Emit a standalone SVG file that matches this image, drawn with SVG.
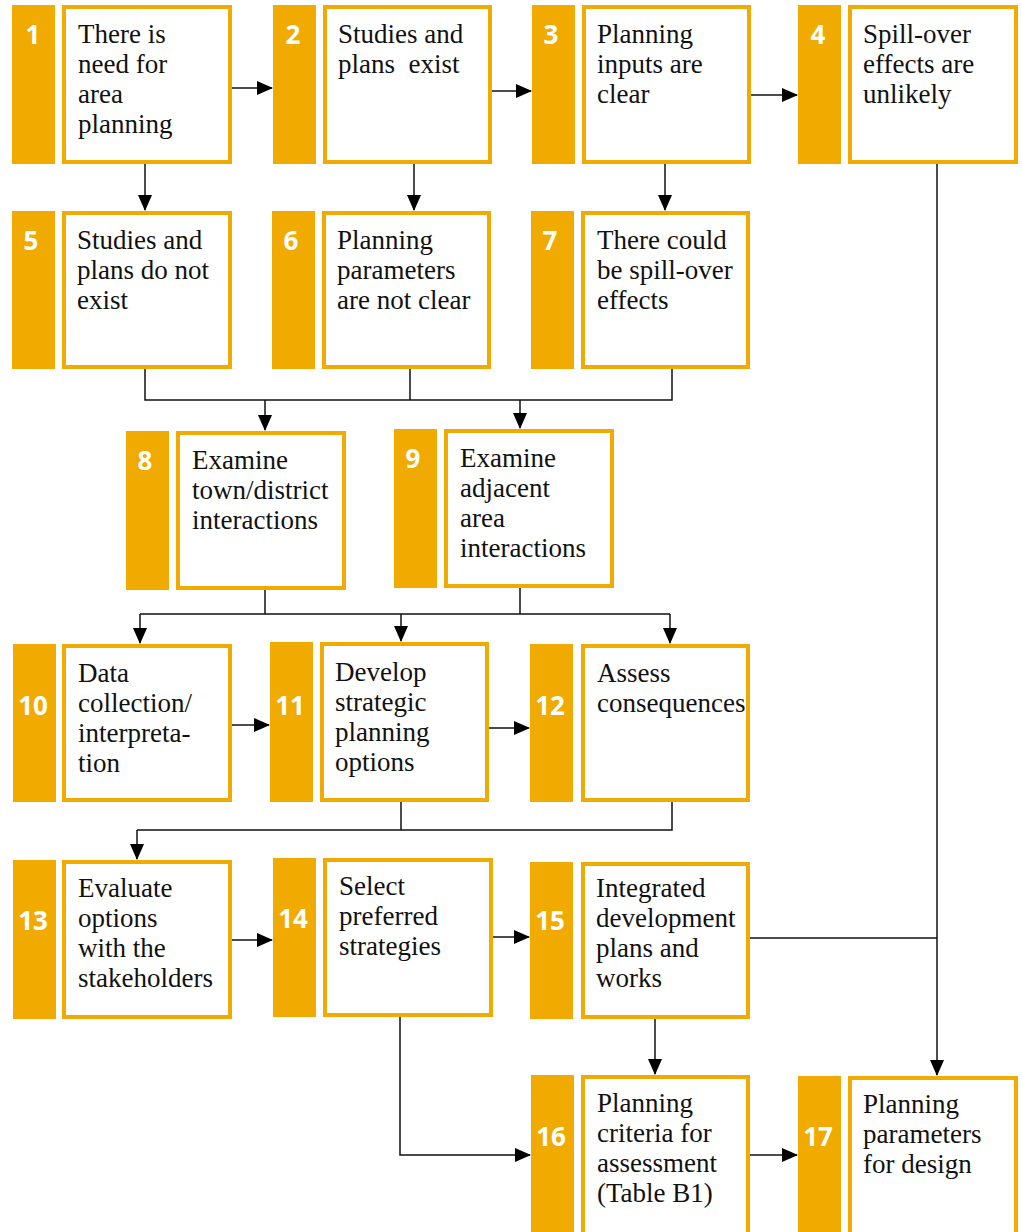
<svg xmlns="http://www.w3.org/2000/svg" width="1022" height="1232" viewBox="0 0 1022 1232">
<style>
.bar{fill:#F1AB00}
.box{fill:#fff;stroke:#F1AB00;stroke-width:4}
.num{font-family:'Open Sans','DejaVu Sans',sans-serif;font-weight:bold;font-size:26px;fill:#fff;text-anchor:middle}
.txt{font-family:'Liberation Serif','Times New Roman',serif;font-size:27px;fill:#111}
.ln{fill:none;stroke:#111;stroke-width:1.5}
</style>
<defs>
<marker id="ah" markerUnits="userSpaceOnUse" markerWidth="16" markerHeight="14" refX="15" refY="7" orient="auto">
<path d="M0,0 L16,7 L0,14 Z" fill="#000"/>
</marker>
</defs>
<rect width="1022" height="1232" fill="#fff"/>
<g id="connectors">
<path class="ln" d="M232,88 H272" marker-end="url(#ah)"/>
<path class="ln" d="M492,91 H531" marker-end="url(#ah)"/>
<path class="ln" d="M751,95 H797" marker-end="url(#ah)"/>
<path class="ln" d="M145,164 V210" marker-end="url(#ah)"/>
<path class="ln" d="M414,164 V210" marker-end="url(#ah)"/>
<path class="ln" d="M665,164 V210" marker-end="url(#ah)"/>
<path class="ln" d="M145,369 V400 H672 V369 M410,369 V400"/>
<path class="ln" d="M265,400 V430" marker-end="url(#ah)"/>
<path class="ln" d="M520,400 V428" marker-end="url(#ah)"/>
<path class="ln" d="M265,590 V614 M520,588 V614 M140,614 H670"/>
<path class="ln" d="M140,614 V643" marker-end="url(#ah)"/>
<path class="ln" d="M401,614 V641" marker-end="url(#ah)"/>
<path class="ln" d="M670,614 V643" marker-end="url(#ah)"/>
<path class="ln" d="M232,725 H269" marker-end="url(#ah)"/>
<path class="ln" d="M489,728 H529" marker-end="url(#ah)"/>
<path class="ln" d="M401,802 V830 M672,802 V830 H137"/>
<path class="ln" d="M137,830 V859" marker-end="url(#ah)"/>
<path class="ln" d="M232,940 H272" marker-end="url(#ah)"/>
<path class="ln" d="M493,937 H529" marker-end="url(#ah)"/>
<path class="ln" d="M750,938 H937"/>
<path class="ln" d="M937,163 V1075" marker-end="url(#ah)"/>
<path class="ln" d="M655,1019 V1074" marker-end="url(#ah)"/>
<path class="ln" d="M400,1017 V1155 H530" marker-end="url(#ah)"/>
<path class="ln" d="M750,1155 H797" marker-end="url(#ah)"/>
</g>
<g id="n1"><rect class="bar" x="12" y="5" width="43" height="159"/><rect class="box" x="64" y="7" width="166" height="155"/><text class="num" x="33" y="44">1</text>
<text class="txt" x="78" y="43">There is</text><text class="txt" x="78" y="73">need for</text><text class="txt" x="78" y="103">area</text><text class="txt" x="78" y="133">planning</text></g>
<g id="n2"><rect class="bar" x="273" y="5" width="43" height="159"/><rect class="box" x="325" y="7" width="165" height="155"/><text class="num" x="293" y="44">2</text>
<text class="txt" x="338" y="43">Studies and</text><text class="txt" x="338" y="73" xml:space="preserve">plans  exist</text></g>
<g id="n3"><rect class="bar" x="532" y="5" width="43" height="159"/><rect class="box" x="584" y="7" width="165" height="155"/><text class="num" x="551" y="44">3</text>
<text class="txt" x="597" y="43">Planning</text><text class="txt" x="597" y="73">inputs are</text><text class="txt" x="597" y="103">clear</text></g>
<g id="n4"><rect class="bar" x="798" y="5" width="43" height="159"/><rect class="box" x="850" y="7" width="166" height="155"/><text class="num" x="818" y="44">4</text>
<text class="txt" x="863" y="43">Spill-over</text><text class="txt" x="863" y="73">effects are</text><text class="txt" x="863" y="103">unlikely</text></g>
<g id="n5"><rect class="bar" x="12" y="211" width="43" height="158"/><rect class="box" x="64" y="213" width="166" height="154"/><text class="num" x="31" y="250">5</text>
<text class="txt" x="77" y="249">Studies and</text><text class="txt" x="77" y="279">plans do not</text><text class="txt" x="77" y="309">exist</text></g>
<g id="n6"><rect class="bar" x="272" y="211" width="43" height="158"/><rect class="box" x="324" y="213" width="165" height="154"/><text class="num" x="291" y="250">6</text>
<text class="txt" x="337" y="249">Planning</text><text class="txt" x="337" y="279">parameters</text><text class="txt" x="337" y="309">are not clear</text></g>
<g id="n7"><rect class="bar" x="531" y="211" width="43" height="158"/><rect class="box" x="583" y="213" width="165" height="154"/><text class="num" x="550" y="250">7</text>
<text class="txt" x="597" y="249">There could</text><text class="txt" x="597" y="279">be spill-over</text><text class="txt" x="597" y="309">effects</text></g>
<g id="n8"><rect class="bar" x="126" y="431" width="43" height="159"/><rect class="box" x="178" y="433" width="166" height="155"/><text class="num" x="145" y="470">8</text>
<text class="txt" x="192" y="469">Examine</text><text class="txt" x="192" y="499">town/district</text><text class="txt" x="192" y="529">interactions</text></g>
<g id="n9"><rect class="bar" x="394" y="429" width="43" height="159"/><rect class="box" x="446" y="431" width="166" height="155"/><text class="num" x="413" y="468">9</text>
<text class="txt" x="460" y="467">Examine</text><text class="txt" x="460" y="497">adjacent</text><text class="txt" x="460" y="527">area</text><text class="txt" x="460" y="557">interactions</text></g>
<g id="n10"><rect class="bar" x="13" y="644" width="43" height="158"/><rect class="box" x="64" y="646" width="166" height="154"/><text class="num" x="33" y="715">10</text>
<text class="txt" x="78" y="682">Data</text><text class="txt" x="78" y="712">collection/</text><text class="txt" x="78" y="742">interpreta-</text><text class="txt" x="78" y="772">tion</text></g>
<g id="n11"><rect class="bar" x="270" y="642" width="43" height="160"/><rect class="box" x="322" y="644" width="165" height="156"/><text class="num" x="290" y="715">11</text>
<text class="txt" x="335" y="681">Develop</text><text class="txt" x="335" y="711">strategic</text><text class="txt" x="335" y="741">planning</text><text class="txt" x="335" y="771">options</text></g>
<g id="n12"><rect class="bar" x="530" y="644" width="43" height="158"/><rect class="box" x="583" y="646" width="165" height="154"/><text class="num" x="550" y="715">12</text>
<text class="txt" x="597" y="682">Assess</text><text class="txt" x="597" y="712">consequences</text></g>
<g id="n13"><rect class="bar" x="13" y="860" width="43" height="159"/><rect class="box" x="64" y="862" width="166" height="155"/><text class="num" x="33" y="930">13</text>
<text class="txt" x="78" y="897">Evaluate</text><text class="txt" x="78" y="927">options</text><text class="txt" x="78" y="957">with the</text><text class="txt" x="78" y="987">stakeholders</text></g>
<g id="n14"><rect class="bar" x="273" y="858" width="43" height="159"/><rect class="box" x="325" y="860" width="166" height="155"/><text class="num" x="293" y="928">14</text>
<text class="txt" x="339" y="895">Select</text><text class="txt" x="339" y="925">preferred</text><text class="txt" x="339" y="955">strategies</text></g>
<g id="n15"><rect class="bar" x="530" y="862" width="43" height="157"/><rect class="box" x="583" y="864" width="165" height="153"/><text class="num" x="550" y="930">15</text>
<text class="txt" x="596" y="897">Integrated</text><text class="txt" x="596" y="927">development</text><text class="txt" x="596" y="957">plans and</text><text class="txt" x="596" y="987">works</text></g>
<g id="n16"><rect class="bar" x="531" y="1075" width="43" height="157"/><rect class="box" x="583" y="1077" width="165" height="157"/><text class="num" x="551" y="1146">16</text>
<text class="txt" x="597" y="1112">Planning</text><text class="txt" x="597" y="1142">criteria for</text><text class="txt" x="597" y="1172">assessment</text><text class="txt" x="597" y="1202">(Table B1)</text></g>
<g id="n17"><rect class="bar" x="798" y="1076" width="43" height="156"/><rect class="box" x="850" y="1078" width="166" height="156"/><text class="num" x="818" y="1146">17</text>
<text class="txt" x="863" y="1113">Planning</text><text class="txt" x="863" y="1143">parameters</text><text class="txt" x="863" y="1173">for design</text></g>
</svg>
